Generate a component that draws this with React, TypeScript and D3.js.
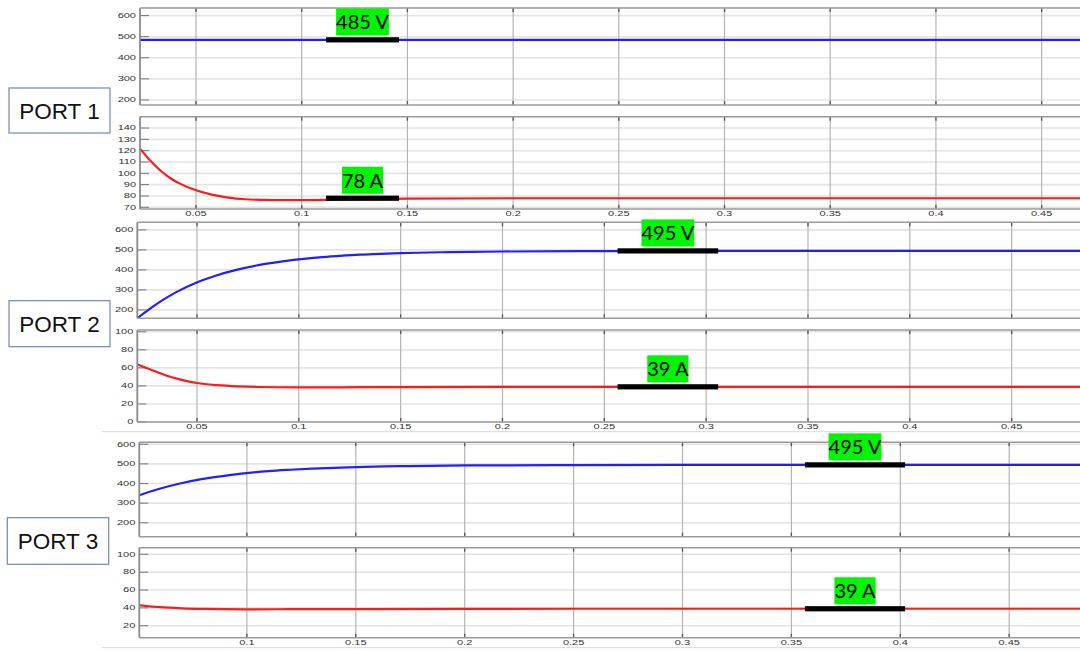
import React, { useLayoutEffect, useRef, useState } from 'react';
import * as d3 from 'd3';

// ---- Simulation traces (time in s) ----
// Port 1: DC bus voltage and current
const port1VoltageTime = [0.02, 0.1, 0.2, 0.3, 0.4, 0.5];
const port1Voltage = [485, 485, 485, 485, 485, 485];
const port1CurrentTime = [0.0235, 0.0282, 0.033, 0.0377, 0.0424, 0.05, 0.0574, 0.0653, 0.0732, 0.0818, 0.09, 0.1, 0.115, 0.13, 0.15, 0.2, 0.3, 0.4, 0.5];
const port1Current = [121.8, 111.5, 102.7, 95.9, 90.9, 85, 81.2, 78.6, 77.1, 76.5, 76.3, 76.3, 76.6, 77.1, 77.6, 78, 78, 78, 78];

// Ports 2 and 3 share the same converter output
const port2VoltageTime = [0.0207, 0.0268, 0.0333, 0.0398, 0.0496, 0.0595, 0.0693, 0.0791, 0.0889, 0.0999, 0.11, 0.12, 0.13, 0.14, 0.15, 0.175, 0.2, 0.25, 0.3, 0.4, 0.5];
const port2Voltage = [158, 205, 250, 289, 336, 372, 400, 422, 438, 453, 463, 470, 476, 480, 484, 489, 492, 494, 495, 495, 495];
const port2CurrentTime = [0.0207, 0.0268, 0.0351, 0.042, 0.05, 0.06, 0.07, 0.08, 0.09, 0.1, 0.12, 0.15, 0.2, 0.25, 0.3, 0.4, 0.5];
const port2Current = [64, 58.5, 51.3, 47, 43.2, 40.8, 39.5, 38.8, 38.5, 38.4, 38.5, 38.7, 38.9, 39, 39, 39, 39];

// Tick values
const voltageTicks = [200, 300, 400, 500, 600];
const port1CurrentTicks = [70, 80, 90, 100, 110, 120, 130, 140];
const port2CurrentTicks = [0, 20, 40, 60, 80, 100];
const port3CurrentTicks = [20, 40, 60, 80, 100];
const timeTicks = [0.05, 0.1, 0.15, 0.2, 0.25, 0.3, 0.35, 0.4, 0.45];
const port3TimeTicks = [0.1, 0.15, 0.2, 0.25, 0.3, 0.35, 0.4, 0.45];

// Steady-state readings
const port1VoltageReading = { text: '485 V', value: 485, from: 0.1115, to: 0.146 };
const port1CurrentReading = { text: '78 A', value: 78, from: 0.1115, to: 0.146 };
const port2VoltageReading = { text: '495 V', value: 495, from: 0.2565, to: 0.3059 };
const port2CurrentReading = { text: '39 A', value: 39, from: 0.2565, to: 0.3059 };
const port3VoltageReading = { text: '495 V', value: 495, from: 0.3562, to: 0.4022 };
const port3CurrentReading = { text: '39 A', value: 39, from: 0.3562, to: 0.4022 };

const W = 1080;
const H = 651;
const RIGHT = 1084;

type Reading = { text: string; value: number; from: number; to: number };

const TickText: React.FC<{ x: number; y: number; anchor: string; children: React.ReactNode }> = ({ x, y, anchor, children }) => (
  <text
    transform={`translate(${x},${y}) scale(1.62,1)`}
    textAnchor={anchor as any}
    fontSize={6.8}
    fontFamily="'Liberation Sans', Arial, sans-serif"
    fill="#333"
  >
    {children}
  </text>
);

const ReadingMark: React.FC<{ reading: Reading; x: d3.ScaleLinear<number, number>; y: d3.ScaleLinear<number, number> }> = ({ reading, x, y }) => {
  const ref = useRef<SVGTextElement>(null);
  const [tw, setTw] = useState(reading.text.length * 10);
  useLayoutEffect(() => {
    if (ref.current) setTw(ref.current.getComputedTextLength());
  }, [reading.text]);
  const x0 = x(reading.from);
  const x1 = x(reading.to);
  const cx = (x0 + x1) / 2;
  const cy = y(reading.value);
  const boxBottom = cy - 4.5;
  const boxH = 27;
  return (
    <g>
      <rect x={cx - tw / 2} y={boxBottom - boxH} width={tw} height={boxH} fill="#00f500" />
      <text
        ref={ref}
        x={cx}
        y={boxBottom - 6}
        textAnchor="middle"
        fontSize={20}
        fontFamily="Lato, 'Open Sans', sans-serif"
        fill="#000"
      >
        {reading.text}
      </text>
      <rect x={x0} y={cy - 2.6} width={x1 - x0} height={5.2} fill="#000" />
    </g>
  );
};

type PanelProps = {
  id: string;
  x: d3.ScaleLinear<number, number>;
  top: number;
  bottom: number;
  domain: [number, number];
  yTicks: number[];
  xTicks: number[];
  time: number[];
  values: number[];
  color: string;
  reading: Reading;
};

const Panel: React.FC<PanelProps> = ({ id, x, top, bottom, domain, yTicks, xTicks, time, values, color, reading }) => {
  const y = d3.scaleLinear().domain(domain).range([bottom, top]);
  const left = x.range()[0];
  const line = d3
    .line<number>()
    .x((_, i) => x(time[i]))
    .y((d) => y(d))
    .curve(d3.curveMonotoneX);
  return (
    <g>
      <defs>
        <clipPath id={id}>
          <rect x={left} y={top} width={RIGHT - left} height={bottom - top} />
        </clipPath>
      </defs>
      <rect x={left} y={top} width={RIGHT - left} height={bottom - top} fill="#fff" />
      {yTicks.map((v) => (
        <line key={`h${v}`} x1={left} x2={RIGHT} y1={y(v)} y2={y(v)} stroke="#e4e4e4" strokeWidth={1.6} />
      ))}
      {xTicks.map((t) => (
        <line key={`v${t}`} x1={x(t)} x2={x(t)} y1={top} y2={bottom} stroke="#b4b4b4" strokeWidth={1.2} />
      ))}
      {xTicks.map((t) => (
        <g key={`tk${t}`}>
          <line x1={x(t)} x2={x(t)} y1={top} y2={top + 4} stroke="#555" strokeWidth={1.3} />
          <line x1={x(t)} x2={x(t)} y1={bottom - 4} y2={bottom} stroke="#555" strokeWidth={1.3} />
        </g>
      ))}
      {yTicks.map((v) => (
        <line key={`yt${v}`} x1={left} x2={left + 9} y1={y(v)} y2={y(v)} stroke="#777" strokeWidth={1} />
      ))}
      <path d={line(values) || ''} fill="none" stroke={color} strokeWidth={2.2} clipPath={`url(#${id})`} />
      <line x1={left} x2={RIGHT} y1={top} y2={top} stroke="#9a9a9a" strokeWidth={1.4} />
      <line x1={left} x2={RIGHT} y1={bottom} y2={bottom} stroke="#9a9a9a" strokeWidth={1.4} />
      <line x1={left} x2={left} y1={top} y2={bottom} stroke="#8a8a8a" strokeWidth={1.8} />
      {yTicks.map((v) => (
        <TickText key={`yl${v}`} x={left - 4} y={y(v) + 2.3} anchor="end">
          {v}
        </TickText>
      ))}
      <ReadingMark reading={reading} x={x} y={y} />
    </g>
  );
};

const PortBox: React.FC<{ x: number; y: number; w: number; h: number; label: string }> = ({ x, y, w, h, label }) => (
  <g>
    <rect x={x} y={y} width={w} height={h} fill="#fff" stroke="#7088b4" strokeWidth={1.2} />
    <text
      x={x + w / 2}
      y={y + h / 2 + 8}
      textAnchor="middle"
      fontSize={22.5}
      fontFamily="'Liberation Sans', Arial, sans-serif"
      fill="#111"
    >
      {label}
    </text>
  </g>
);

const timeScale = (t0: number, left: number, pxPerSecond: number) =>
  d3.scaleLinear().domain([t0, 0.5]).range([left, left + (0.5 - t0) * pxPerSecond]);

export default function App() {
  const x1 = timeScale(0.0235, 140, 2114);
  const x2 = timeScale(0.0207, 137.3, 2036.7);
  const x3 = timeScale(0.0506, 139.3, 2178);

  const timeLabels = (x: d3.ScaleLinear<number, number>, ticks: number[], yb: number) =>
    ticks.map((t) => (
      <TickText key={`xl${yb}${t}`} x={x(t)} y={yb} anchor="middle">
        {String(t)}
      </TickText>
    ));

  return (
    <svg
      width={W}
      height={H}
      viewBox={`0 0 ${W} ${H}`}
      style={{ position: 'absolute', left: 0, top: 0, background: '#fff' }}
    >
      <rect x={0} y={0} width={W} height={H} fill="#fff" />

      {/* PORT 1 */}
      <Panel id="p1v" x={x1} top={8} bottom={105} domain={[176, 636]} yTicks={voltageTicks} xTicks={timeTicks}
        time={port1VoltageTime} values={port1Voltage} color="#1f1fff" reading={port1VoltageReading} />
      <Panel id="p1i" x={x1} top={116.7} bottom={209} domain={[68.5, 150]} yTicks={port1CurrentTicks} xTicks={timeTicks}
        time={port1CurrentTime} values={port1Current} color="#ff1a1a" reading={port1CurrentReading} />
      {timeLabels(x1, timeTicks, 215.6)}
      <PortBox x={9} y={88} w={101} h={45} label="PORT 1" />

      {/* PORT 2 */}
      <Panel id="p2v" x={x2} top={222.3} bottom={318.3} domain={[158, 638]} yTicks={voltageTicks} xTicks={timeTicks}
        time={port2VoltageTime} values={port2Voltage} color="#1f1fff" reading={port2VoltageReading} />
      <Panel id="p2i" x={x2} top={330} bottom={422} domain={[0, 102]} yTicks={port2CurrentTicks} xTicks={timeTicks}
        time={port2CurrentTime} values={port2Current} color="#ff1a1a" reading={port2CurrentReading} />
      {timeLabels(x2, timeTicks, 429.4)}
      <line x1={102} x2={W} y1={431.7} y2={431.7} stroke="#d8d8d8" strokeWidth={1} />
      <PortBox x={9} y={300.7} w={101} h={46} label="PORT 2" />

      {/* PORT 3 */}
      <Panel id="p3v" x={x3} top={442.3} bottom={536.7} domain={[129, 610]} yTicks={voltageTicks} xTicks={port3TimeTicks}
        time={port2VoltageTime} values={port2Voltage} color="#1f1fff" reading={port3VoltageReading} />
      <Panel id="p3i" x={x3} top={547.7} bottom={637.7} domain={[6.6, 107.4]} yTicks={port3CurrentTicks} xTicks={port3TimeTicks}
        time={port2CurrentTime} values={port2Current} color="#ff1a1a" reading={port3CurrentReading} />
      {timeLabels(x3, port3TimeTicks, 645.3)}
      <line x1={102} x2={W} y1={647.7} y2={647.7} stroke="#d8d8d8" strokeWidth={1} />
      <PortBox x={7.3} y={517.7} w={101.4} h={46.6} label="PORT 3" />
    </svg>
  );
}
